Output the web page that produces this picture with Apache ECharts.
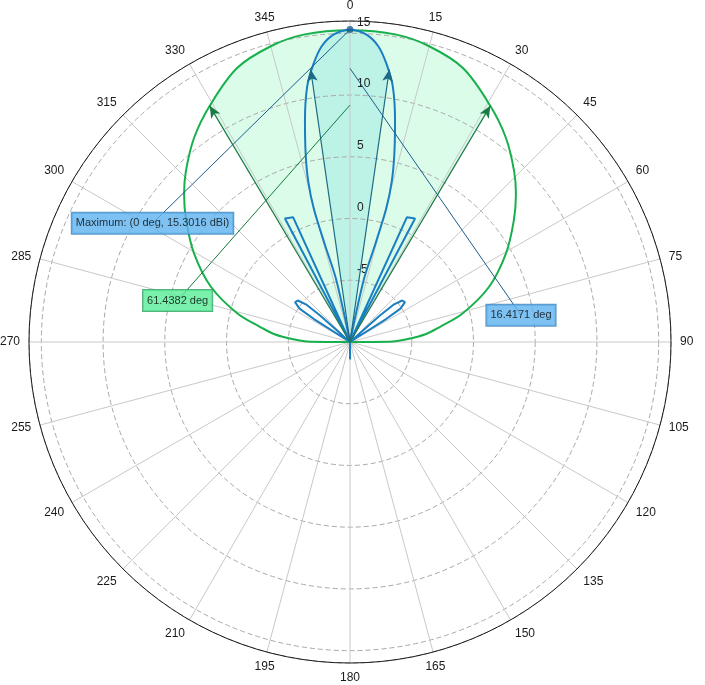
<!DOCTYPE html>
<html><head><meta charset="utf-8">
<script src="https://cdn.jsdelivr.net/npm/echarts@6/dist/echarts.min.js"></script>
<style>html,body{margin:0;padding:0;background:#fff}#c{width:705px;height:685px}</style>
</head><body><div id="c"></div>
<script>
// ---- data (angles in degrees, clockwise from 0 at top; gains in dBi) ----
// Array pattern (blue): main lobe trace
const arrayMainAngles = [347.5, 347.5, 345.5, 344.8, 345.4, 346.7, 348.5, 350.5, 352.5, 354.5, 357,
  360, 363, 365.5, 367.5, 369.5, 371.5, 373.3, 374.6, 375.2, 374.5, 372.5, 372.5];
const arrayMainGains = [-10, -4.8, -1.8, 1.2, 3.4, 5.6, 8.3, 11.0, 12.7, 14.05, 14.95,
  15.3, 14.95, 14.05, 12.7, 11.0, 8.3, 5.6, 3.4, 1.2, -1.8, -4.8, -10];
// Array pattern (blue): side lobes and back lobe, traced in drawing order
const arraySideAngles = [175, 180, 185,
  302, 302.5, 303.5, 306, 308.5, 310.5, 311.5, 312,
  331, 332.2, 335.5, 336,
  384, 384.5, 387.8, 389,
  408, 408.5, 409.5, 411.5, 414, 416.5, 417.5, 418];
const arraySideGains = [-10, -8.6, -10,
  -10, -6.5, -5.1, -4.5, -4.6, -5.3, -6.8, -10,
  -10, 1.3, 1.1, -10,
  -10, 1.1, 1.3, -10,
  -10, -6.8, -5.3, -4.6, -4.5, -5.1, -6.5, -10];
// Element pattern (green): front part and back lobe
const elementAngles = [269.5, 270.4, 272.7, 276, 279.6, 284.2, 291.6, 299.5, 306.5, 311.7, 316.2, 322.6, 329.3, 337.6, 345, 351.4,
  360, 368.6, 375, 382.4, 390.7, 397.4, 403.8, 408.3, 413.5, 420.5, 428.4, 435.8, 440.4, 444, 447.3, 449.6, 450.5];
const elementGains = [-10, -6.8, -5.4, -3.8, -2.6, -0.6, 2.1, 4.5, 6.5, 8.0, 9.2, 10.8, 12.25, 14.0, 14.8, 15.18,
  15.25, 15.18, 14.8, 14.0, 12.25, 10.8, 9.2, 8.0, 6.5, 4.5, 2.1, -0.6, -2.6, -3.8, -5.4, -6.8, -10];
const elementBackAngles = [175, 180, 185];
const elementBackGains = [-10, -8.6, -10];
// Half-power lobes (shaded)
const mainLobeAngles = [351.8, 352.5, 354.5, 357, 360, 363, 365.5, 367.5, 368.2];
const mainLobeGains = [12.3, 12.7, 14.05, 14.95, 15.3, 14.95, 14.05, 12.7, 12.3];
const elemLobeAngles = [329.28, 337.6, 345, 351.4, 360, 368.6, 375, 382.4, 390.72];
const elemLobeGains = [12.25, 14.0, 14.8, 15.18, 15.25, 15.18, 14.8, 14.0, 12.25];
// Beamwidth edges
const hpbwEdges = [351.79, 8.21];
const hpbwLevel = 12.3;
const elemBwEdges = [329.28, 30.72];
const elemBwLevel = 12.25;
const maxPoint = { gain: 15.3016, angle: 0 };
// Ticks
const radialTickLabels = [-5, 0, 5, 10, 15];
const radialMin = -10, radialMax = 16, radialStep = 5;
const angleStep = 15;
// Annotation texts
const annText = ['Maximum: (0 deg, 15.3016 dBi)', '61.4382 deg', '16.4171 deg'];
const annFrom = [[15.3016, 0], [9.19, 0], [12.16, 0]];

// ---- layout / style (not data) ----
const annAt = [[8.66, 301.0], [4.36, 283.5], [4.02, 81.1]];
const annStyle = [
  { bg: '#5cb3f0', border: '#3a7db6', line: '#1d5c8e' },
  { bg: '#58ee98', border: '#2e9e5e', line: '#157a3c' },
  { bg: '#5cb3f0', border: '#3a7db6', line: '#1d5c8e' }
];
const FONT = 'Liberation Sans';

function pairs(angles, gains) { return angles.map((a, i) => [gains[i], a]); }

const series = [];
series.push({ type: 'line', coordinateSystem: 'polar', data: pairs(elemLobeAngles, elemLobeGains),
  symbol: 'none', smooth: 0.35, lineStyle: { width: 0, opacity: 0 },
  areaStyle: { color: '#dafce8', opacity: 1, origin: 'start' }, z: 1, silent: true });
series.push({ type: 'line', coordinateSystem: 'polar', data: pairs(mainLobeAngles, mainLobeGains),
  symbol: 'none', smooth: 0.3, lineStyle: { width: 0, opacity: 0 },
  areaStyle: { color: '#bdf2e6', opacity: 1, origin: 'start' }, z: 1, silent: true });
series.push({ type: 'line', coordinateSystem: 'polar', data: pairs(elementAngles, elementGains),
  symbol: 'none', smooth: 0.35, lineStyle: { width: 2, color: '#17b04d' }, z: 5, silent: true });
series.push({ type: 'line', coordinateSystem: 'polar', data: pairs(elementBackAngles, elementBackGains),
  symbol: 'none', lineStyle: { width: 2, color: '#17b04d' }, z: 5, silent: true });
series.push({ type: 'line', coordinateSystem: 'polar', data: pairs(arraySideAngles, arraySideGains),
  symbol: 'none', lineStyle: { width: 2, color: '#1a7ec2' }, z: 6, silent: true });
series.push({ type: 'line', coordinateSystem: 'polar', data: pairs(arrayMainAngles, arrayMainGains),
  symbol: 'none', smooth: 0.3, lineStyle: { width: 2, color: '#1a7ec2' }, z: 6, silent: true });

function arrowLine(angle, level, color) {
  return { type: 'line', coordinateSystem: 'polar', z: 7, silent: true,
    lineStyle: { width: 1.2, color: color }, itemStyle: { color: color }, showSymbol: true,
    data: [{ value: [radialMin, angle], symbol: 'none' },
           { value: [level, angle], symbol: 'arrow', symbolSize: [8, 12], symbolRotate: -angle }] };
}
hpbwEdges.forEach(a => series.push(arrowLine(a, hpbwLevel, '#1e6a86')));
elemBwEdges.forEach(a => series.push(arrowLine(a, elemBwLevel, '#1a7a45')));

annText.forEach((t, i) => {
  series.push({ type: 'line', coordinateSystem: 'polar', z: 8, silent: true, symbol: 'none',
    lineStyle: { width: 1, color: annStyle[i].line }, data: [annFrom[i], annAt[i]] });
});
series.push({ type: 'scatter', coordinateSystem: 'polar', z: 9, silent: true,
  symbol: 'circle', symbolSize: 7, itemStyle: { color: '#1d5c8e' },
  data: [[maxPoint.gain, maxPoint.angle]] });
series.push({ type: 'scatter', coordinateSystem: 'polar', z: 10, silent: true, symbolSize: 0,
  data: annText.map((t, i) => ({ value: annAt[i], label: {
    show: true, position: 'inside', formatter: t, color: '#0a0a0a', fontSize: 11, fontFamily: FONT,
    backgroundColor: annStyle[i].bg, borderColor: annStyle[i].border, borderWidth: 1,
    padding: [4, 4, 4, 4], lineHeight: 13 } })) });

const chart = echarts.init(document.getElementById('c'), null, { renderer: 'canvas' });
chart.setOption({
  animation: false,
  backgroundColor: '#ffffff',
  polar: { center: [350, 342], radius: 321 },
  angleAxis: { type: 'value', min: 0, max: 360, interval: angleStep, startAngle: 90, clockwise: true, z: 3,
    axisLine: { lineStyle: { color: '#1a1a1a', width: 1 } },
    axisTick: { show: false },
    axisLabel: { margin: 9, color: '#1a1a1a', fontSize: 12, fontFamily: FONT,
      formatter: v => (v >= 360 ? '' : String(v)) },
    splitLine: { lineStyle: { color: '#c9c9c9', width: 1 } } },
  radiusAxis: { type: 'value', min: radialMin, max: radialMax, interval: radialStep, z: 3,
    axisLine: { show: false }, axisTick: { show: false },
    axisLabel: { interval: 0, color: '#222', fontSize: 12, fontFamily: FONT, margin: -7,
      align: 'left', verticalAlign: 'bottom', padding: [0, 0, 5, 0],
      formatter: v => (radialTickLabels.indexOf(v) >= 0 ? String(v) : '') },
    splitLine: { lineStyle: { color: '#a9a9a9', width: 1, type: [5, 3] } } },
  series: series
});
</script></body></html>
